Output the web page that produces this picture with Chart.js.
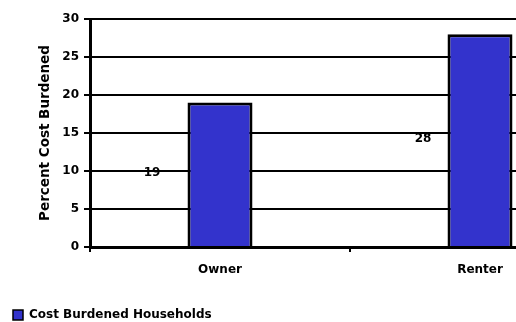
<!DOCTYPE html>
<html>
<head>
<meta charset="utf-8">
<script src="https://cdn.jsdelivr.net/npm/chart.js@4/dist/chart.umd.min.js"></script>
<style>
  html, body { margin: 0; padding: 0; background: #fff; overflow: hidden; }
  #wrap { width: 610px; height: 331px; position: relative; }
</style>
</head>
<body>
<div id="wrap"><canvas id="myChart"></canvas></div>
<script>
const categories = ["Owner", "Renter"];
const seriesName = "Cost Burdened Households";
const seriesValues = [19, 28];
const yMin = 0;
const yMax = 30;
const yStep = 5;

const font = { family: "'DejaVu Sans', Verdana, sans-serif", size: 12, weight: "bold" };

// value labels sit at half bar height, shifted left of the bars
const valueLabels = {
  id: "valueLabels",
  afterDatasetsDraw(chart, args, opts) {
    const ctx = chart.ctx;
    const yScale = chart.scales.y;
    chart.data.datasets.forEach(function (ds, di) {
      const meta = chart.getDatasetMeta(di);
      meta.data.forEach(function (bar, i) {
        const v = ds.data[i];
        ctx.save();
        ctx.font = "bold 12px 'DejaVu Sans', Verdana, sans-serif";
        ctx.fillStyle = "#000";
        ctx.textAlign = "center";
        ctx.textBaseline = "middle";
        ctx.fillText(String(v), bar.x + opts.dx[i], yScale.getPixelForValue(v / 2) - 2);
        ctx.restore();
      });
    });
  }
};

new Chart(document.getElementById("myChart"), {
  type: "bar",
  data: {
    labels: categories,
    datasets: [{
      label: seriesName,
      data: seriesValues,
      backgroundColor: "#3333cc",
      borderColor: "#000",
      borderWidth: 3,
      barPercentage: 0.25,
      categoryPercentage: 1.0
    }]
  },
  options: {
    responsive: true,
    maintainAspectRatio: false,
    animation: false,
    layout: { padding: { top: 19, left: 0, right: 0, bottom: 0 } },
    plugins: {
      legend: {
        position: "bottom",
        align: "start",
        labels: {
          boxWidth: 10,
          boxHeight: 10,
          padding: 13,
          color: "#000",
          font: font,
          generateLabels: function (chart) {
            const items = Chart.defaults.plugins.legend.labels.generateLabels(chart);
            items.forEach(function (it) { it.lineWidth = 1.5; });
            return items;
          }
        }
      },
      tooltip: { enabled: false },
      valueLabels: { dx: [-68, -57] }
    },
    scales: {
      x: {
        grid: {
          offset: true,
          drawOnChartArea: false,
          drawTicks: true,
          tickLength: 5,
          color: "#000",
          lineWidth: 2
        },
        border: { color: "#000", width: 3 },
        ticks: { color: "#000", font: font, padding: 11, maxRotation: 0 },
        afterFit: function (scale) { scale.height = 49; }
      },
      y: {
        min: yMin,
        max: yMax,
        ticks: { stepSize: yStep, color: "#000", font: font, padding: 5 },
        grid: { color: "#000", lineWidth: 2, tickLength: 6 },
        border: { color: "#000", width: 3 },
        title: {
          display: true,
          text: "Percent Cost Burdened",
          color: "#000",
          font: { family: font.family, size: 13.5, weight: "bold" },
          padding: { top: 37, bottom: 0 }
        },
        afterFit: function (scale) { scale.width = 90; }
      }
    }
  },
  plugins: [valueLabels]
});
</script>
</body>
</html>
